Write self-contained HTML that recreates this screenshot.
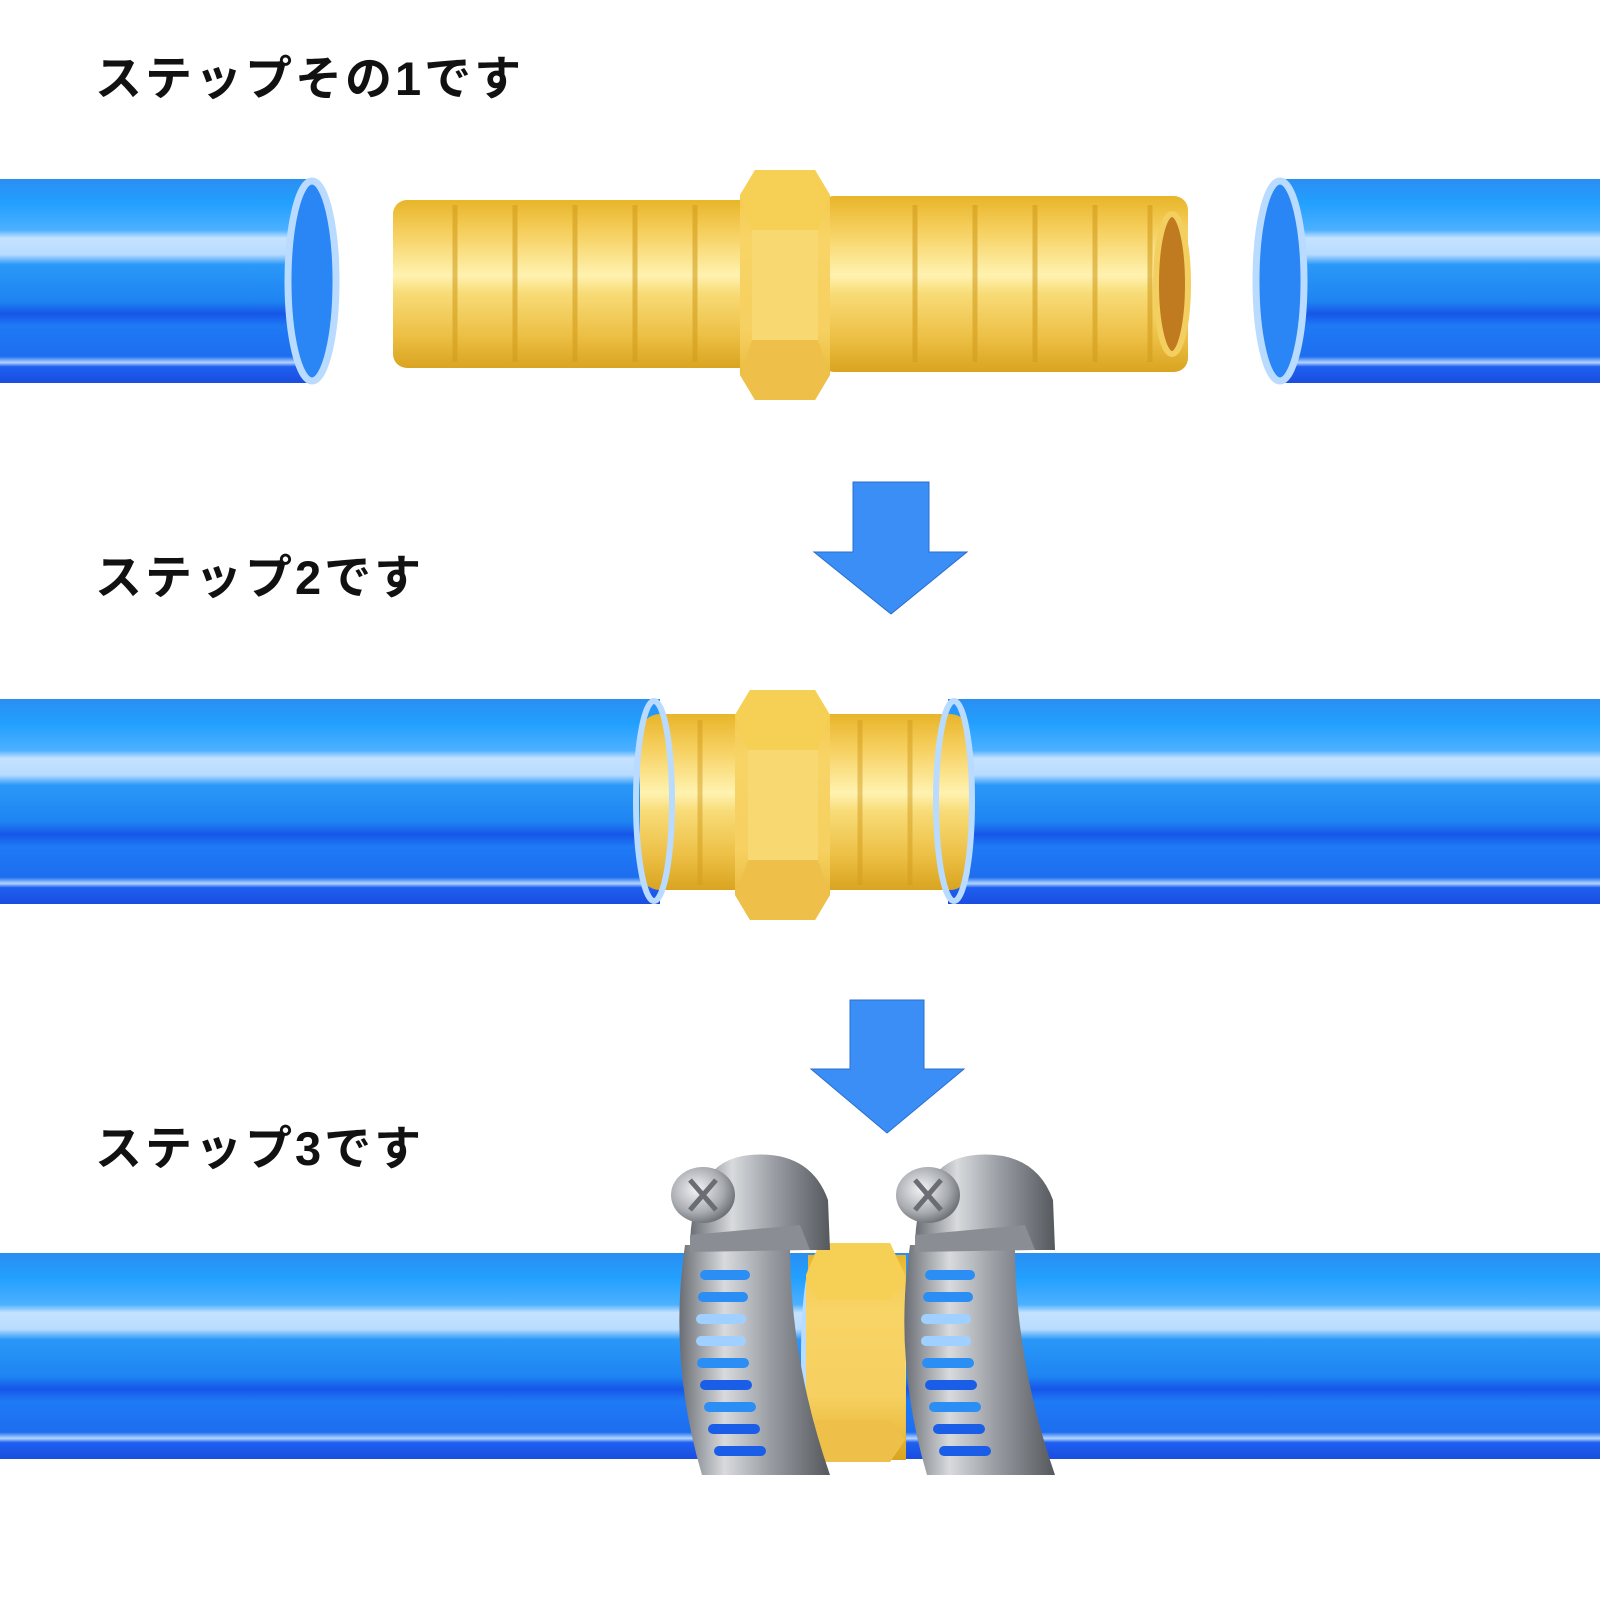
<!DOCTYPE html>
<html><head><meta charset="utf-8"><style>
html,body{margin:0;padding:0;background:#fff;width:1600px;height:1600px;overflow:hidden}
svg{display:block}
text{font-family:"Liberation Sans","Noto Sans CJK JP",sans-serif;font-weight:bold;fill:#111;letter-spacing:3px}
</style></head><body>
<svg width="1600" height="1600" viewBox="0 0 1600 1600" xmlns="http://www.w3.org/2000/svg">
<defs>
<linearGradient id="pipe" x1="0" y1="0" x2="0" y2="1">
<stop offset="0" stop-color="#2a8ef2"/><stop offset="0.12" stop-color="#22a0ff"/>
<stop offset="0.25" stop-color="#4cb0ff"/><stop offset="0.29" stop-color="#c5e2ff"/>
<stop offset="0.37" stop-color="#b8dcff"/><stop offset="0.42" stop-color="#2a98f8"/>
<stop offset="0.6" stop-color="#1e84f2"/><stop offset="0.66" stop-color="#1656e8"/>
<stop offset="0.72" stop-color="#1e7af5"/><stop offset="0.87" stop-color="#1e6ef0"/>
<stop offset="0.9" stop-color="#b5d5ff"/><stop offset="0.92" stop-color="#1e60f0"/>
<stop offset="1" stop-color="#1a4de0"/></linearGradient>
<linearGradient id="brass" x1="0" y1="0" x2="0" y2="1">
<stop offset="0" stop-color="#e8b52a"/><stop offset="0.2" stop-color="#f6d060"/>
<stop offset="0.45" stop-color="#fff2b0"/><stop offset="0.55" stop-color="#f8dc78"/>
<stop offset="0.8" stop-color="#edc046"/><stop offset="1" stop-color="#d9a420"/></linearGradient>
<linearGradient id="hex" x1="0" y1="0" x2="0" y2="1">
<stop offset="0" stop-color="#f2c440"/><stop offset="0.3" stop-color="#f8d466"/>
<stop offset="0.7" stop-color="#f6d060"/><stop offset="1" stop-color="#e3b02c"/></linearGradient>
<linearGradient id="steel" x1="0" y1="0" x2="1" y2="0">
<stop offset="0" stop-color="#6a6e74"/><stop offset="0.3" stop-color="#d8dadd"/>
<stop offset="0.6" stop-color="#9a9ea4"/><stop offset="1" stop-color="#55595e"/></linearGradient>
<radialGradient id="head" cx="0.4" cy="0.4" r="0.7">
<stop offset="0" stop-color="#f4f4f6"/><stop offset="0.6" stop-color="#a8abb0"/><stop offset="1" stop-color="#5a5e63"/></radialGradient>
</defs>

<text x="95" y="95" font-size="47">ステップその1です</text>
<text x="95" y="594" font-size="47">ステップ2です</text>
<text x="95" y="1165" font-size="47">ステップ3です</text>

<!-- Row 1 -->
<rect x="0" y="179" width="312" height="204" fill="url(#pipe)"/>
<ellipse cx="312" cy="281" rx="24" ry="100" fill="#2a86f5" stroke="#b8dbff" stroke-width="7"/>
<rect x="1280" y="179" width="320" height="204" fill="url(#pipe)"/>
<ellipse cx="1280" cy="281" rx="24" ry="100" fill="#2a86f5" stroke="#b8dbff" stroke-width="7"/>

<g>
<rect x="393" y="200" width="360" height="168" rx="14" fill="url(#brass)"/>
<rect x="820" y="196" width="368" height="176" rx="14" fill="url(#brass)"/>
<g stroke="#d39d1c" stroke-width="5" opacity="0.6">
<line x1="455" y1="205" x2="455" y2="362"/><line x1="515" y1="205" x2="515" y2="362"/>
<line x1="575" y1="205" x2="575" y2="362"/><line x1="635" y1="205" x2="635" y2="362"/>
<line x1="695" y1="205" x2="695" y2="362"/>
<line x1="915" y1="205" x2="915" y2="362"/><line x1="975" y1="205" x2="975" y2="362"/>
<line x1="1035" y1="205" x2="1035" y2="362"/><line x1="1095" y1="205" x2="1095" y2="362"/>
<line x1="1150" y1="205" x2="1150" y2="362"/></g>
<ellipse cx="1172" cy="284" rx="16" ry="70" fill="#c07a20" stroke="#f3cf60" stroke-width="6"/>
<polygon points="755,170 815,170 830,195 830,375 815,400 755,400 740,375 740,195" fill="url(#hex)"/>
<polygon points="752,230 818,230 830,195 815,170 755,170 740,195" fill="#f6cf55"/>
<polygon points="752,340 818,340 830,375 815,400 755,400 740,375" fill="#eec04a"/>
<rect x="752" y="230" width="66" height="110" fill="#f8d870"/>
</g>

<!-- Arrow 1 -->
<polygon points="853,482 929,482 929,552 967,552 891,614 814,552 853,552" fill="#3a8ef5" stroke="#2a6fd0" stroke-width="1"/>

<!-- Row 2 -->
<rect x="0" y="699" width="660" height="205" fill="url(#pipe)"/>
<rect x="948" y="699" width="652" height="205" fill="url(#pipe)"/>
<rect x="640" y="714" width="330" height="176" rx="20" fill="url(#brass)"/>
<ellipse cx="654" cy="801" rx="18" ry="100" fill="none" stroke="#b8dbff" stroke-width="6"/>
<ellipse cx="954" cy="801" rx="18" ry="100" fill="none" stroke="#b8dbff" stroke-width="6"/>
<g stroke="#d39d1c" stroke-width="5" opacity="0.5">
<line x1="700" y1="720" x2="700" y2="885"/><line x1="910" y1="720" x2="910" y2="885"/><line x1="860" y1="720" x2="860" y2="885"/></g>
<polygon points="750,690 815,690 830,715 830,895 815,920 750,920 735,895 735,715" fill="url(#hex)"/>
<polygon points="748,750 818,750 830,715 815,690 750,690 735,715" fill="#f6cf55"/>
<polygon points="748,860 818,860 830,895 815,920 750,920 735,895" fill="#eec04a"/>
<rect x="748" y="750" width="70" height="110" fill="#f8d870"/>

<!-- Arrow 2 -->
<polygon points="850,1000 924,1000 924,1069 964,1069 887,1133 811,1069 850,1069" fill="#3a8ef5" stroke="#2a6fd0" stroke-width="1"/>

<!-- Row 3 -->
<rect x="0" y="1253" width="1600" height="206" fill="url(#pipe)"/>
<ellipse cx="818" cy="1356" rx="14" ry="100" fill="none" stroke="#b8dbff" stroke-width="6"/>
<rect x="808" y="1255" width="98" height="205" fill="url(#brass)"/>
<polygon points="820,1243 890,1243 905,1275 905,1440 890,1462 820,1462 806,1440 806,1275" fill="url(#hex)"/>
<polygon points="818,1300 890,1300 905,1275 890,1243 820,1243 806,1275" fill="#f6cf55"/>
<polygon points="818,1420 890,1420 905,1440 890,1462 820,1462 806,1440" fill="#eec04a"/>

<g id="clamp">
<path d="M685,1245 Q668,1360 702,1475 L830,1475 Q790,1360 790,1245 Z" fill="url(#steel)"/>
<g fill="#2a8ef5">
<rect x="700" y="1270" width="50" height="10" rx="5"/><rect x="698" y="1292" width="50" height="10" rx="5"/>
<rect x="696" y="1314" width="50" height="10" rx="5" fill="#9fd0ff"/><rect x="696" y="1336" width="50" height="10" rx="5" fill="#9fd0ff"/>
<rect x="697" y="1358" width="52" height="10" rx="5"/><rect x="700" y="1380" width="52" height="10" rx="5" fill="#1a5ee8"/>
<rect x="704" y="1402" width="52" height="10" rx="5"/><rect x="708" y="1424" width="52" height="10" rx="5" fill="#1a5ee8"/>
<rect x="714" y="1446" width="52" height="10" rx="5" fill="#1a5ee8"/></g>
<path d="M690,1250 Q690,1160 750,1155 Q810,1150 828,1200 L830,1250 Z" fill="url(#steel)"/>
<ellipse cx="703" cy="1195" rx="32" ry="28" fill="url(#head)"/>
<path d="M690,1180 L716,1210 M716,1180 L690,1210" stroke="#6a6e74" stroke-width="5"/>
<path d="M690,1235 L800,1225 L810,1250 L690,1252 Z" fill="#8a8e94"/>
</g>
<use href="#clamp" transform="translate(225,0)"/>
</svg>
</body></html>
